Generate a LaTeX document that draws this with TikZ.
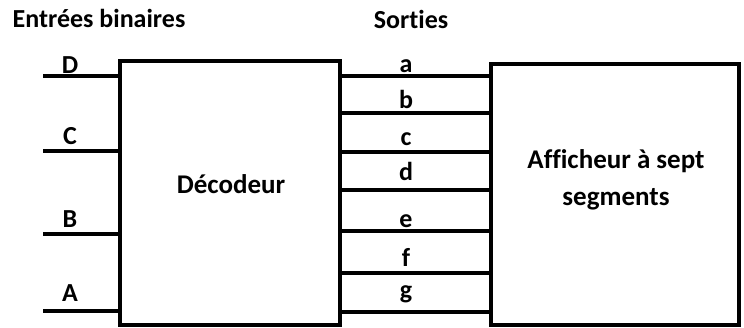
\documentclass[tikz,border=0pt]{standalone}
\usepackage{fontspec}
\setmainfont[Ligatures=NoCommon]{Carlito}
\begin{document}
\begin{tikzpicture}[x=1pt,y=-1pt,
  wire/.style={line width=3.2pt},
  blk/.style={draw,line width=3.2pt},
  lbl/.style={font=\bfseries\fontsize{26}{26}\selectfont,anchor=base,inner sep=0pt},
  ttl/.style={font=\bfseries\fontsize{26}{26}\selectfont,anchor=base,inner sep=0pt},
  big/.style={font=\bfseries\fontsize{27}{37}\selectfont,align=center,inner sep=0pt,anchor=base}]
\useasboundingbox (0,0) rectangle (744,327);
% blocks
\draw[blk] (120,61) rectangle (340,325);
\draw[blk] (491,64) rectangle (739,325);
\node[big] (dec) at (231,193) {Décodeur};
\node[big] (aff1) at (616,168) {Afficheur à sept};
\node[big] (aff2) at (616,205) {segments};
% titles
\node[ttl] (t1) at (99,27) {Entrées binaires};
\node[ttl] (t2) at (411,28) {Sorties};
% inputs
\foreach \n/\y/\by in {D/76/73,C/151/144,B/234/227,A/311/301}{
  \coordinate (in\n) at (43,\y);
  \coordinate (de\n) at (120,\y);
  \draw[wire] (in\n) -- (de\n);
  \node[lbl] (l\n) at (70,\by) {\n};
}
% outputs
\foreach \n/\y/\by in {a/76/72,b/113/108,c/152/145,d/190/180,e/231/227,f/273/266,g/312/298}{
  \coordinate (o\n) at (340,\y);
  \coordinate (p\n) at (491,\y);
  \draw[wire] (o\n) -- (p\n);
  \node[lbl] (m\n) at (406,\by) {\n};
}
\end{tikzpicture}
\end{document}
